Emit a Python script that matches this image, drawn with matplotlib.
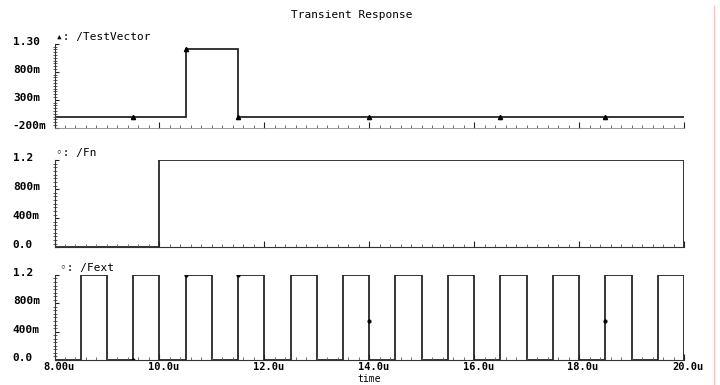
import matplotlib
matplotlib.use('Agg')
import matplotlib.pyplot as plt
from matplotlib.ticker import MultipleLocator
from matplotlib.lines import Line2D
from matplotlib.transforms import ScaledTranslation

plt.rcParams['font.family'] = ['DejaVu Sans Mono', 'DejaVu Sans']
plt.rcParams['font.size'] = 8

# señales (tiempo en us)
tv_bordes = [8.0, 10.5, 11.5, 20.0]
tv_niveles = [0.0, 1.2, 0.0]
tv_marca_t = [9.5, 10.5, 11.5, 14.0, 16.5, 18.5]
tv_marca_v = [0.0, 1.2, 0.0, 0.0, 0.0, 0.0]

fn_bordes = [8.0, 10.0, 20.0]
fn_niveles = [0.0, 1.2]

fext_bordes = [8.0, 8.5, 9.0, 9.5, 10.0, 10.5, 11.0, 11.5, 12.0, 12.5, 13.0, 13.5,
               14.0, 14.5, 15.0, 15.5, 16.0, 16.5, 17.0, 17.5, 18.0, 18.5, 19.0, 19.5, 20.0]
fext_niveles = [0.0, 1.2, 0.0, 1.2, 0.0, 1.2, 0.0, 1.2, 0.0, 1.2, 0.0, 1.2,
                0.0, 1.2, 0.0, 1.2, 0.0, 1.2, 0.0, 1.2, 0.0, 1.2, 0.0, 1.2]
fext_marca_t = [9.5, 10.5, 11.5, 14.0, 18.5]
fext_marca_v = [0.0, 1.2, 1.2, 0.55, 0.55]

x_ticks = [8, 10, 12, 14, 16, 18, 20]
x_etiquetas = ['8.00u', '10.0u', '12.0u', '14.0u', '16.0u', '18.0u', '20.0u']
y1_ticks = [-0.2, 0.3, 0.8, 1.3]
y1_etiquetas = ['-200m', '300m', '800m', '1.30']
y_ticks = [0.0, 0.4, 0.8, 1.2]
y_etiquetas = ['0.0', '400m', '800m', '1.2']

color_traza = '#262626'

fig = plt.figure(figsize=(7.2, 3.85), dpi=100)
ax1 = fig.add_axes([0.0757, 0.668, 0.8743, 0.218])
ax2 = fig.add_axes([0.0757, 0.358, 0.8743, 0.226])
ax3 = fig.add_axes([0.0757, 0.065, 0.8743, 0.221])

ax1.stairs(tv_niveles, tv_bordes, baseline=None, color=color_traza, lw=1.3)
ax1.plot(tv_marca_t, tv_marca_v, ls='none', marker='^', ms=3, color='black')
ax2.stairs(fn_niveles, fn_bordes, baseline=0, color=color_traza, lw=1.3)
ax3.stairs(fext_niveles, fext_bordes, baseline=0, color=color_traza, lw=1.3)
ax3.plot(fext_marca_t, fext_marca_v, ls='none', marker='o', ms=2, color='black')

ax1.set_ylim(-0.2, 1.3)
ax2.set_ylim(0, 1.2)
ax3.set_ylim(0, 1.2)

up = ScaledTranslation(0, 3 / 100, fig.dpi_scale_trans)
right = ScaledTranslation(4 / 100, 0, fig.dpi_scale_trans)

for ax, yt, yl in [(ax1, y1_ticks, y1_etiquetas), (ax2, y_ticks, y_etiquetas), (ax3, y_ticks, y_etiquetas)]:
    ax.set_xlim(8, 20)
    ax.spines['top'].set_visible(False)
    ax.spines['right'].set_visible(False)
    ax.spines['left'].set_color('#333333')
    ax.spines['bottom'].set_color('#333333')
    ax.set_xticks(x_ticks)
    ax.xaxis.set_minor_locator(MultipleLocator(0.2))
    ax.set_yticks(yt)
    ax.set_yticklabels(yl, ha='left')
    ax.yaxis.set_minor_locator(MultipleLocator(0.05))
    ax.tick_params(axis='x', which='major', direction='in', length=4, pad=1.5,
                   labelsize=7.5, color='#222222')
    ax.tick_params(axis='x', which='minor', direction='in', length=2, color='#555555')
    ax.tick_params(axis='y', which='major', direction='in', length=3, pad=30, color='#222222')
    ax.tick_params(axis='y', which='minor', direction='inout', length=2.5, color='#444444')
    for lbl in ax.get_yticklabels():
        lbl.set_transform(lbl.get_transform() + up)
        lbl.set_fontweight('bold')

ax1.spines['bottom'].set_color('#888888')
ax1.spines['bottom'].set_linewidth(0.6)
ax1.set_xticklabels([])
ax2.set_xticklabels([])
ax3.set_xticklabels(x_etiquetas)
for lbl in ax3.get_xticklabels():
    lbl.set_transform(lbl.get_transform() + right)
    lbl.set_fontweight('bold')

ax1.text(0.003, 1.085, '\u25b4: /TestVector', transform=ax1.transAxes, va='center')
ax2.text(0.003, 1.08, '\u25e6: /Fn', transform=ax2.transAxes, va='center')
ax3.text(0.009, 1.08, '\u25e6: /Fext', transform=ax3.transAxes, va='center')

ax3.set_xlabel('time', fontsize=7)
ax3.xaxis.set_label_coords(0.5, -0.17)

fig.text(352 / 720, 1 - 15 / 385, 'Transient Response', ha='center', va='center')
fig.add_artist(Line2D([714 / 720, 714 / 720], [0, 0.985], transform=fig.transFigure,
                      color='#f5c2c2', lw=1))

fig.savefig('out.png', dpi=100)
